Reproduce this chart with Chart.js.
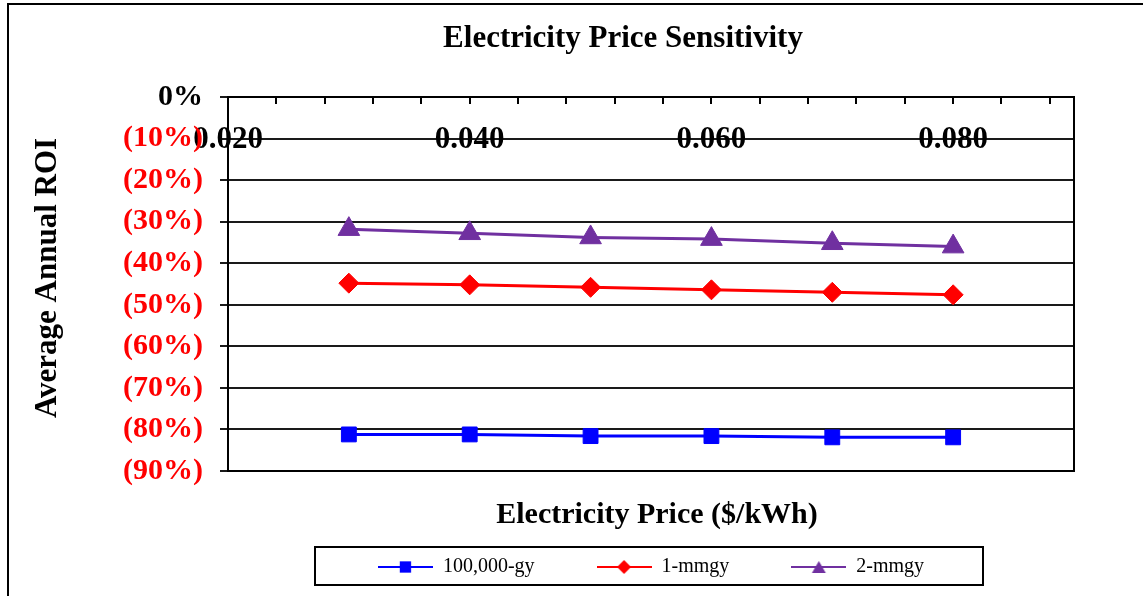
<!DOCTYPE html>
<html>
<head>
    <title>Electricity Price Sensitivity</title>
    <script src="https://cdn.jsdelivr.net/npm/chart.js"></script>
    <style>
        body { margin: 0; background: #fff; }
    </style>
</head>
<body>
    <canvas id="grafico" width="1143" height="596"></canvas>

    <script>
        // electricity price ($/kWh) on x, average annual ROI on y
        const precos = [0.03, 0.04, 0.05, 0.06, 0.07, 0.08];
        const nomes = ['100,000-gy', '1-mmgy', '2-mmgy'];
        const roi100k = [-0.812, -0.812, -0.816, -0.816, -0.819, -0.819];
        const roi1mm = [-0.448, -0.452, -0.458, -0.464, -0.470, -0.476];
        const roi2mm = [-0.318, -0.328, -0.338, -0.342, -0.352, -0.360];
        const cores = ['#0000ff', '#ff0000', '#7030a0'];
        const marcadores = ['rect', 'rectRot', 'triangle'];
        const raios = [10.5, 10, 12.5];

        const fonte = "'Liberation Serif', 'Times New Roman', serif";
        Chart.defaults.font.family = fonte;
        Chart.defaults.color = '#000';

        // little "line + marker" pictures for the legend, Excel style
        const icones = [0, 1, 2].map(i => {
            const c = document.createElement('canvas');
            c.width = 55; c.height = 16;
            const g = c.getContext('2d');
            g.strokeStyle = cores[i];
            g.fillStyle = cores[i];
            g.lineWidth = 2;
            g.beginPath(); g.moveTo(0, 8); g.lineTo(55, 8); g.stroke();
            Chart.helpers.drawPoint(g, { pointStyle: marcadores[i], radius: [8, 7, 8][i], borderWidth: 0 }, 27.5, i === 2 ? 10 : 8);
            return c;
        });

        const valores = [roi100k, roi1mm, roi2mm];
        const datasets = valores.map((serie, i) => ({
            label: nomes[i],
            data: serie.map((v, j) => ({ x: precos[j], y: v })),
            borderColor: cores[i],
            backgroundColor: cores[i],
            borderWidth: 3,
            pointStyle: marcadores[i],
            pointRadius: raios[i],
            pointHoverRadius: raios[i],
            pointBorderWidth: 1,
            tension: 0
        }));

        const LEG_PAD = 62;

        const textos = {
            id: 'textos',
            beforeDraw(chart) {
                const ctx = chart.ctx;
                ctx.save();
                ctx.strokeStyle = '#000';
                ctx.lineWidth = 2;
                ctx.strokeRect(8, 4, 1300, 800);
                ctx.restore();
            },
            afterLayout(chart) {
                // legend sits lower than Chart.js would put it
                chart.legend.top += 24;
                chart.legend.bottom += 24;
            },
            afterDraw(chart) {
                const ctx = chart.ctx;
                const a = chart.chartArea;
                ctx.save();
                ctx.strokeStyle = '#000';
                ctx.lineWidth = 2;
                ctx.strokeRect(a.left, a.top, a.right - a.left, a.bottom - a.top);

                // legend frame
                const cx = (a.left + a.right) / 2;
                const cy = chart.legend.top + LEG_PAD + 10;
                ctx.strokeRect(cx - 336, cy - 20, 668, 38);

                ctx.fillStyle = '#000';
                ctx.textAlign = 'center';
                ctx.textBaseline = 'middle';
                ctx.font = 'bold 31px ' + fonte;
                ctx.fillText('Electricity Price Sensitivity', 623, 39);
                ctx.font = 'bold 30px ' + fonte;
                ctx.fillText('Electricity Price ($/kWh)', 657, 515);

                ctx.translate(48, 278);
                ctx.rotate(-Math.PI / 2);
                ctx.font = 'bold 31px ' + fonte;
                ctx.fillText('Average Annual ROI', 0, 0);
                ctx.restore();
            }
        };

        new Chart(document.getElementById('grafico'), {
            type: 'line',
            data: { datasets: datasets },
            options: {
                responsive: false,
                animation: false,
                layout: { padding: { top: 97, left: 0, right: 69, bottom: 33 } },
                scales: {
                    x: {
                        type: 'linear',
                        position: { y: 0 },
                        min: 0.02,
                        max: 0.09,
                        border: { display: true, color: '#000', width: 2 },
                        grid: { drawOnChartArea: false, drawTicks: true, tickLength: 6, color: '#000', lineWidth: 2 },
                        ticks: {
                            stepSize: 0.004,
                            includeBounds: false,
                            autoSkip: false,
                            maxRotation: 0,
                            padding: 18,
                            font: { size: 31, weight: 'bold' },
                            color: '#000',
                            callback: v => Math.round(v * 1000) % 20 === 0 ? v.toFixed(3) : ''
                        }
                    },
                    y: {
                        min: -0.9,
                        max: 0,
                        afterFit: s => { s.width = 228; },
                        border: { display: true, color: '#000', width: 2 },
                        grid: { color: '#1a1a1a', lineWidth: 2, tickLength: 8 },
                        ticks: {
                            stepSize: 0.1,
                            autoSkip: false,
                            padding: 17,
                            font: { size: 30, weight: 'bold' },
                            color: c => c.tick && c.tick.value < -0.001 ? '#ff0000' : '#000',
                            callback: v => Math.abs(v) < 0.001 ? '0%' : '(' + Math.round(-v * 100) + '%)'
                        }
                    }
                },
                plugins: {
                    legend: {
                        position: 'bottom',
                        fullSize: false,
                        labels: {
                            usePointStyle: true,
                            pointStyleWidth: 55,
                            padding: LEG_PAD,
                            font: { size: 20 },
                            color: '#000',
                            generateLabels: chart => chart.data.datasets.map((d, i) => ({
                                text: d.label,
                                pointStyle: icones[i],
                                datasetIndex: i,
                                hidden: false,
                                lineWidth: 0
                            }))
                        }
                    },
                    tooltip: { enabled: false }
                }
            },
            plugins: [textos]
        });
    </script>
</body>
</html>
